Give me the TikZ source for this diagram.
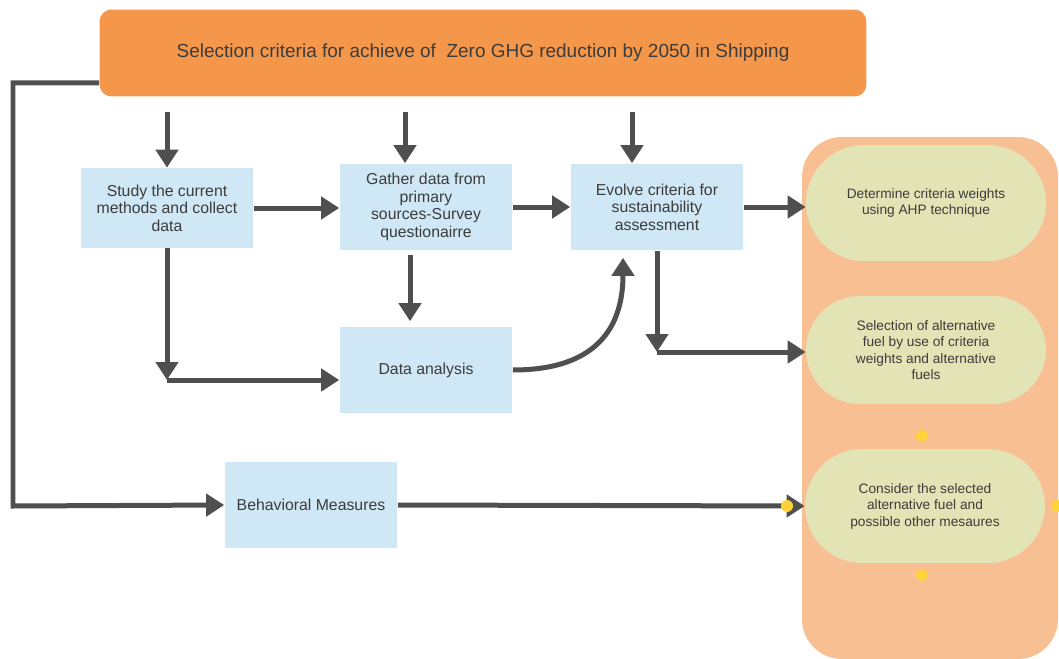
\documentclass[tikz,border=0pt]{standalone}
\usepackage{fontspec}
\setmainfont{Liberation Sans}
\usetikzlibrary{shapes.misc, arrows.meta}

\definecolor{goalorange}{HTML}{F4974A}
\definecolor{boxblue}{HTML}{D0E7F5}
\definecolor{panelorange}{HTML}{F8BF93}
\definecolor{ovalgreen}{HTML}{E3E4B5}
\definecolor{dotyellow}{HTML}{FDD23B}
\definecolor{linegray}{HTML}{4F4F4F}
\definecolor{textgray}{HTML}{3C3C3C}

\begin{document}
\begin{tikzpicture}[x=0.02cm, y=-0.02cm,
  stepbox/.style={rectangle, fill=boxblue, text=textgray, align=center,
    font=\fontsize{9}{10}\selectfont, inner sep=2pt,
    minimum width=3.46cm, minimum height=1.74cm},
  oval/.style={rounded rectangle, fill=ovalgreen, text=textgray, align=center,
    font=\fontsize{7.8}{9.4}\selectfont, inner sep=2pt, minimum width=4.94cm},
  flow/.style={draw=linegray, line width=0.1cm,
    -{Triangle[length=0.36cm, width=0.44cm]}},
  ydot/.style={circle, fill=dotyellow, inner sep=0pt, minimum size=0.24cm}]
\useasboundingbox (0,0) rectangle (1059,659);

% right panel
\fill[panelorange, rounded corners=0.8cm] (802,137) rectangle (1058,659);

\node[rectangle, rounded corners=0.24cm, fill=goalorange, text=textgray,
  minimum width=15.34cm, minimum height=1.74cm, font=\fontsize{10.8}{13}\selectfont] (goal) at (483,53)
  {Selection criteria for achieve of \ Zero GHG reduction by 2050 in Shipping};

\node[stepbox, minimum height=1.6cm] (study) at (167,208)
  {Study the current\\methods and collect\\data};
\node[stepbox] (gather) at (426,207)
  {Gather data from\\primary\\sources-Survey\\questionairre};
\node[stepbox] (evolve) at (657,207)
  {Evolve criteria for\\sustainability\\assessment};
\node[stepbox] (analysis) at (426,370)
  {Data analysis};
\node[stepbox] (behav) at (311,505)
  {Behavioral Measures};

\node[oval, minimum height=2.32cm] (weights) at (926,203)
  {Determine criteria weights\\using AHP technique};
\node[oval, minimum height=2.16cm] (select) at (926,350)
  {Selection of alternative\\fuel by use of criteria\\weights and alternative\\fuels};
\node[oval, minimum height=2.28cm] (consider) at (925,506)
  {Consider the selected\\alternative fuel and\\possible other mesaures};

\coordinate (left) at (13,506);
\coordinate (jn1) at (167,380);
\coordinate (jn2) at (657,352);

\draw[flow, shorten <=0.3cm] (goal.south -| study.north) -- (study.north);
\draw[flow, shorten <=0.3cm] ([xshift=-0.42cm]goal.south -| gather.north) -- ([xshift=-0.42cm]gather.north);
\draw[flow, shorten <=0.3cm] ([xshift=-0.5cm]goal.south -| evolve.north) -- ([xshift=-0.5cm]evolve.north);

\draw[flow] (study.east) -- (study.east -| gather.west);
\draw[flow] (gather.east) -- (gather.east -| evolve.west);
\draw[flow] (evolve.east) -- (evolve.east -| weights.west);

\draw[flow, shorten <=0.08cm, shorten >=0.1cm] ([xshift=-0.32cm]gather.south) -- ([xshift=-0.32cm]analysis.north);
\draw[flow] (study.south) -- (jn1);
\draw[flow] (jn1) -- (jn1 -| analysis.west);

\draw[flow, shorten >=0.14cm] (analysis.east) .. controls +(90,0) and +(0,70) .. ([xshift=-0.68cm]evolve.south);
\draw[flow] (evolve.south) -- (jn2);
\draw[flow] (jn2) -- (jn2 -| select.west);

\draw[flow] ([yshift=0.28cm]goal.south west) -| (left) -- (behav.west);
\draw[flow] (behav.east) -- (consider.west);

\node[ydot] (d1) at (922,436) {};
\node[ydot] (d2) at (922,575) {};
\node[ydot] (d3) at (787,506) {};
\node[ydot] (d4) at (1057,506) {};

\end{tikzpicture}
\end{document}
